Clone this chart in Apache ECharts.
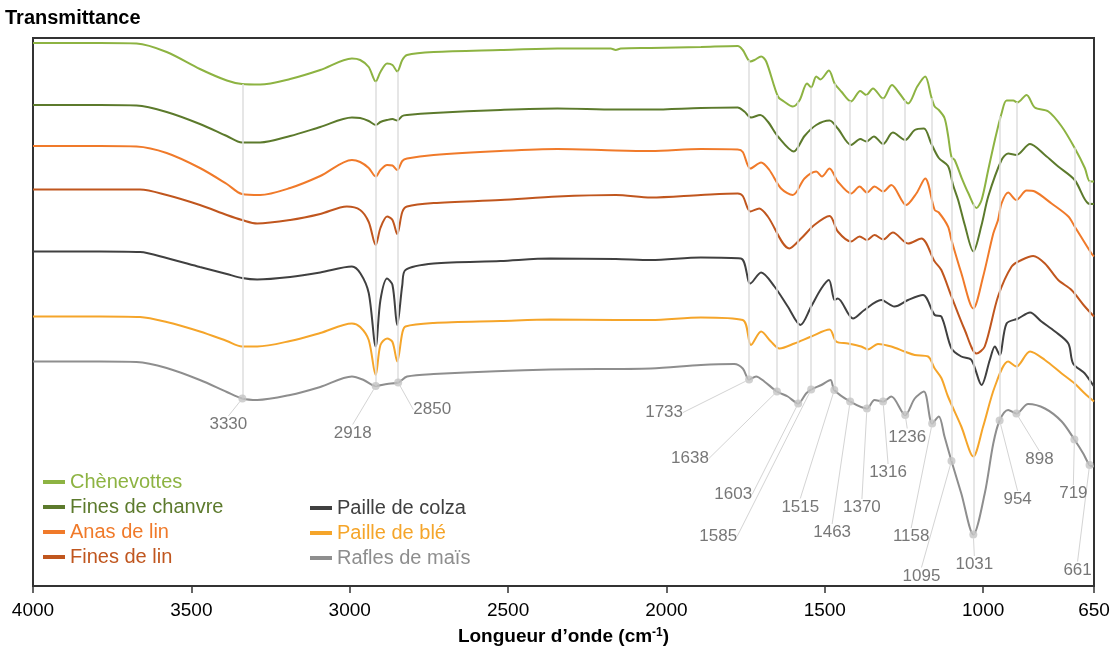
<!DOCTYPE html>
<html>
<head>
<meta charset="utf-8">
<title>Transmittance</title>
<script src="https://cdn.jsdelivr.net/npm/echarts@6/dist/echarts.min.js"></script>
<style>
    html, body { margin: 0; padding: 0; background: #fff; }
    #chart { width: 1116px; height: 657px; }
</style>
</head>
<body>
<div id="chart"></div>
<script>

    // spectra: [wavenumber cm-1, transmittance (offset, a.u.)]
    var chenevottes = [
        [4000, 108.6], [3789, 108.6], [3673, 108.5], [3578, 106.8], [3473, 103.4], [3388, 101.1], [3340, 100.4],
        [3283, 100.3], [3188, 101.4], [3093, 103.2], [2993, 105.5], [2967, 105.2], [2940, 103.8], [2918, 100.9],
        [2903, 102.8], [2882, 104.5], [2865, 104.2], [2850, 102.9], [2834, 105.2], [2819, 106.2], [2735, 106.8],
        [2524, 107.2], [2344, 107.5], [2176, 107.5], [2160, 107.2], [2144, 107.5], [2049, 107.6], [1891, 107.8],
        [1775, 108.0], [1759, 107.2], [1735, 104.9], [1722, 105.2], [1701, 105.9], [1685, 104.9], [1648, 97.9],
        [1629, 96.9], [1601, 95.9], [1580, 97.1], [1556, 100.5], [1543, 99.7], [1527, 101.9], [1514, 101.3],
        [1487, 103.1], [1469, 100.5], [1448, 98.9], [1417, 96.9], [1388, 99.0], [1369, 98.2], [1348, 99.5],
        [1316, 97.5], [1288, 100.2], [1264, 98.5], [1237, 96.5], [1208, 99.9], [1183, 101.9], [1164, 97.9],
        [1153, 95.9], [1140, 95.2], [1122, 93.6], [1111, 90.2], [1100, 85.8], [1090, 85.2], [1069, 81.8],
        [1047, 78.6], [1021, 75.6], [1005, 77.2], [984, 83.2], [963, 89.2], [942, 94.5], [926, 97.1], [905, 97.1],
        [892, 96.7], [863, 98.2], [837, 95.7], [794, 94.9], [752, 91.9], [711, 87.6], [679, 83.6], [663, 80.9],
        [650, 80.9]
    ];
    var finesChanvre = [
        [4000, 96.2], [3789, 96.2], [3673, 96.1], [3578, 94.8], [3473, 92.4], [3388, 90.0], [3340, 88.7],
        [3283, 88.7], [3188, 90.0], [3093, 91.8], [2993, 93.7], [2967, 93.6], [2940, 93.0], [2918, 92.2],
        [2903, 92.8], [2882, 93.2], [2865, 93.4], [2850, 93.1], [2834, 94.0], [2819, 94.2], [2735, 94.6],
        [2524, 95.2], [2344, 95.5], [2160, 95.3], [2049, 95.3], [1891, 95.6], [1775, 95.7], [1754, 94.9],
        [1733, 93.7], [1704, 94.2], [1680, 92.9], [1648, 89.9], [1598, 86.9], [1564, 90.0], [1527, 92.2],
        [1485, 93.1], [1459, 91.5], [1417, 88.2], [1388, 89.4], [1369, 88.9], [1345, 89.9], [1316, 88.4],
        [1285, 90.7], [1246, 89.2], [1216, 91.2], [1187, 91.5], [1164, 88.5], [1140, 85.6], [1111, 84.0],
        [1095, 80.2], [1079, 77.2], [1058, 72.2], [1031, 66.9], [1005, 72.2], [984, 77.9], [942, 85.2],
        [921, 86.5], [895, 86.2], [852, 88.4], [805, 86.2], [763, 83.9], [711, 81.2], [668, 76.5], [650, 76.4]
    ];
    var anasLin = [
        [4000, 88.0], [3789, 88.0], [3673, 87.9], [3578, 86.6], [3473, 83.6], [3388, 80.4], [3340, 78.4],
        [3283, 78.2], [3188, 79.6], [3093, 82.0], [2993, 85.2], [2967, 84.8], [2940, 83.6], [2918, 81.9],
        [2903, 83.2], [2882, 84.2], [2865, 84.1], [2850, 83.2], [2834, 85.0], [2819, 85.5], [2735, 86.2],
        [2524, 87.0], [2344, 87.4], [2160, 87.1], [2049, 87.0], [1891, 87.4], [1775, 87.3], [1759, 86.8],
        [1735, 83.5], [1701, 84.7], [1675, 83.2], [1638, 79.5], [1601, 78.2], [1564, 81.5], [1527, 82.9],
        [1509, 81.9], [1485, 83.5], [1459, 80.9], [1417, 78.5], [1390, 79.9], [1367, 78.7], [1343, 79.9],
        [1316, 78.9], [1290, 80.2], [1243, 76.2], [1211, 78.5], [1183, 81.5], [1153, 75.2], [1140, 74.7],
        [1111, 71.9], [1100, 69.2], [1069, 62.6], [1031, 55.5], [1000, 61.9], [968, 70.5], [953, 73.2],
        [942, 76.5], [921, 78.7], [895, 77.2], [863, 79.1], [837, 78.9], [784, 76.5], [731, 73.9], [711, 71.9],
        [658, 66.5], [650, 65.9]
    ];
    var finesLin = [
        [4000, 79.3], [3789, 79.3], [3662, 79.3], [3578, 78.2], [3473, 76.2], [3388, 74.2], [3340, 73.2],
        [3292, 72.5], [3188, 73.2], [3093, 74.4], [3009, 75.9], [2967, 75.2], [2940, 72.8], [2918, 68.2],
        [2903, 71.6], [2882, 73.9], [2865, 73.2], [2850, 70.4], [2834, 74.8], [2819, 75.9], [2735, 76.6],
        [2524, 77.2], [2344, 77.9], [2160, 78.2], [2049, 77.7], [1891, 78.2], [1775, 78.5], [1759, 78.0],
        [1735, 74.9], [1707, 75.5], [1680, 73.9], [1612, 67.5], [1575, 69.5], [1533, 72.2], [1485, 74.0],
        [1459, 70.9], [1417, 68.9], [1390, 69.9], [1367, 69.2], [1343, 70.2], [1316, 69.3], [1285, 70.7],
        [1237, 68.5], [1195, 69.5], [1153, 64.9], [1132, 63.2], [1100, 57.9], [1058, 51.2], [1021, 46.5],
        [995, 47.9], [953, 57.9], [910, 63.9], [879, 65.2], [842, 66.0], [805, 64.5], [763, 61.2], [721, 59.2],
        [679, 55.9], [650, 53.9]
    ];
    var pailleColza = [
        [4000, 66.9], [3789, 66.9], [3662, 66.8], [3578, 65.6], [3473, 63.8], [3388, 62.4], [3340, 61.6],
        [3292, 61.3], [3188, 61.8], [3093, 62.7], [2993, 63.9], [2966, 62.5], [2940, 58.6], [2918, 47.9],
        [2903, 57.2], [2882, 61.5], [2865, 60.2], [2850, 52.2], [2834, 60.2], [2824, 63.2], [2735, 64.5],
        [2524, 65.0], [2366, 65.5], [2160, 65.4], [2049, 65.2], [1891, 65.7], [1765, 65.5], [1735, 60.5],
        [1701, 62.7], [1659, 59.9], [1617, 55.9], [1577, 52.2], [1543, 55.9], [1511, 59.5], [1487, 61.2],
        [1469, 57.2], [1459, 57.5], [1411, 53.5], [1375, 55.2], [1322, 57.2], [1280, 55.9], [1237, 57.2],
        [1190, 58.2], [1153, 54.2], [1132, 53.9], [1100, 47.5], [1069, 45.9], [1037, 45.2], [1005, 40.2],
        [979, 45.2], [963, 47.9], [948, 46.2], [926, 52.5], [889, 53.5], [852, 54.7], [816, 52.9], [773, 50.9],
        [731, 48.5], [716, 44.5], [679, 42.5], [650, 39.9]
    ];
    var pailleBle = [
        [4000, 53.9], [3789, 53.9], [3662, 53.8], [3578, 52.8], [3473, 50.9], [3388, 49.0], [3340, 47.9],
        [3292, 47.9], [3188, 49.0], [3093, 50.6], [2993, 52.5], [2967, 51.8], [2940, 49.2], [2918, 42.2],
        [2903, 48.2], [2882, 49.5], [2865, 48.8], [2850, 44.9], [2834, 50.6], [2824, 51.9], [2735, 52.6],
        [2524, 53.0], [2366, 53.3], [2160, 53.2], [2049, 53.2], [1891, 53.7], [1759, 53.2], [1733, 48.2],
        [1701, 50.9], [1670, 48.9], [1643, 47.5], [1596, 48.5], [1543, 49.9], [1485, 51.3], [1464, 48.9],
        [1427, 48.5], [1385, 47.9], [1364, 47.3], [1332, 48.4], [1290, 47.9], [1248, 46.9], [1216, 46.2],
        [1174, 45.9], [1153, 43.5], [1132, 41.6], [1111, 37.9], [1069, 31.9], [1031, 25.9], [1000, 31.9],
        [963, 39.9], [921, 44.9], [895, 43.9], [852, 46.9], [805, 45.2], [752, 42.5], [711, 40.5], [679, 38.5],
        [650, 36.9]
    ];
    var raflesMais = [
        [4000, 44.9], [3789, 44.9], [3673, 44.8], [3578, 43.6], [3473, 41.2], [3388, 38.8], [3339, 37.5],
        [3292, 37.2], [3188, 38.2], [3093, 39.8], [2993, 41.9], [2956, 41.2], [2918, 40.0], [2882, 40.4],
        [2847, 40.7], [2819, 41.9], [2735, 42.4], [2366, 43.3], [2049, 43.5], [1891, 44.2], [1786, 44.4],
        [1759, 43.5], [1739, 41.3], [1717, 41.9], [1691, 40.9], [1651, 38.9], [1617, 37.9], [1584, 36.5],
        [1559, 38.5], [1543, 39.3], [1511, 40.2], [1482, 41.2], [1470, 39.2], [1420, 36.9], [1367, 35.5],
        [1343, 37.2], [1316, 36.9], [1290, 37.9], [1246, 34.2], [1216, 37.5], [1187, 38.9], [1161, 32.5],
        [1140, 33.9], [1122, 29.9], [1100, 25.0], [1069, 18.5], [1031, 10.3], [995, 18.5], [968, 28.5],
        [948, 33.1], [921, 35.2], [895, 34.5], [858, 36.4], [805, 35.5], [752, 32.9], [712, 29.3], [684, 26.5],
        [664, 24.2], [650, 23.9]
    ];

    var names = ['Chènevottes', 'Fines de chanvre', 'Anas de lin', 'Fines de lin',
        'Paille de colza', 'Paille de blé', 'Rafles de maïs'];
    var traces = [chenevottes, finesChanvre, anasLin, finesLin, pailleColza, pailleBle, raflesMais];

    // band labels and where their guide lines sit (top on Chènevottes, marker on Rafles de maïs)
    var bandLabel = ['3330', '2918', '2850', '1733', '1638', '1603', '1585', '1515', '1463', '1370',
        '1316', '1236', '1158', '1095', '1031', '954', '898', '719', '661'];
    var bandPos = [3339, 2918, 2847, 1739, 1651, 1584, 1543, 1470, 1420, 1367,
        1316, 1246, 1161, 1100, 1031, 948, 895, 712, 664];
    var bandLow = [37.5, 40.0, 40.7, 41.3, 38.9, 36.5, 39.3, 39.2, 36.9, 35.5,
        36.9, 34.2, 32.5, 25.0, 10.3, 33.1, 34.5, 29.3, 24.2];
    var bandTop = [100.4, 100.9, 102.9, 105.2, 98.2, 96.9, 99.7, 100.5, 97.0, 98.2,
        97.5, 97.2, 97.6, 85.8, 76.5, 94.0, 96.8, 87.7, 81.0];

    var xTicks = [4000, 3500, 3000, 2500, 2000, 1500, 1000, 650];

    var colors = ['#8db342', '#5c7a2c', '#f07a2a', '#c0561e', '#404040', '#f5a52a', '#8e8e8e'];
    var font = '"Liberation Sans", Arial, Helvetica, sans-serif';

    // label offsets from their marker, px
    var labelShift = [[-14, 26], [-23, 47], [34, 27], [-85, 33], [-87, 67], [-65, 91], [-93, 147], [-34, 117],
        [-18, 131], [-5, 99], [5, 71], [2, 22], [-21, 113], [-30, 115], [1, 30], [18, 79], [23, 46], [-1, 54],
        [-12, 105]];

    function legendItems(from, to) {
        var out = [];
        for (var i = from; i < to; i++) {
            out.push({ name: names[i], textStyle: { color: colors[i] } });
        }
        return out;
    }

    function getOption() {
        var series = [];

        // light grey guide lines behind the spectra
        series.push({
            type: 'line',
            name: 'guides',
            data: [],
            z: 1,
            silent: true,
            markLine: {
                silent: true,
                symbol: 'none',
                label: { show: false },
                lineStyle: { color: '#dedede', width: 1.5, type: 'solid' },
                emphasis: { disabled: true },
                data: bandPos.map(function (x, i) {
                    return [{ coord: [x, bandTop[i]] }, { coord: [x, bandLow[i]] }];
                })
            }
        });

        for (var i = 0; i < traces.length; i++) {
            series.push({
                type: 'line',
                name: names[i],
                data: traces[i],
                showSymbol: false,
                symbol: 'none',
                smooth: 0.3,
                z: 2,
                color: colors[i],
                lineStyle: { color: colors[i], width: 2 },
                emphasis: { disabled: true }
            });
        }

        series.push({
            type: 'scatter',
            name: 'bands',
            z: 5,
            symbolSize: 8,
            itemStyle: { color: '#c4c4c4' },
            data: bandPos.map(function (x, i) { return [x, bandLow[i], bandLabel[i]]; }),
            label: {
                show: true,
                position: 'inside',
                formatter: function (p) { return p.value[2]; },
                color: '#555',
                fontSize: 17,
                fontFamily: font
            },
            labelLine: { show: true, lineStyle: { color: '#d4d4d4', width: 1 } },
            labelLayout: function (p) {
                var s = labelShift[p.dataIndex];
                return { dx: s[0], dy: s[1] };
            },
            emphasis: { disabled: true }
        });

        return {
            animation: false,
            backgroundColor: '#fff',
            textStyle: { fontFamily: font },
            title: {
                text: 'Transmittance',
                left: 5,
                top: 8,
                padding: 0,
                textStyle: { fontSize: 20, fontWeight: 'bold', color: '#000', fontFamily: font }
            },
            legend: [{
                orient: 'vertical',
                left: 43,
                top: 472,
                padding: 0,
                itemGap: 5,
                itemWidth: 22,
                itemHeight: 4,
                icon: 'rect',
                selectedMode: false,
                textStyle: { fontSize: 20, fontFamily: font },
                data: legendItems(0, 4)
            }, {
                orient: 'vertical',
                left: 310,
                top: 498,
                padding: 0,
                itemGap: 5,
                itemWidth: 22,
                itemHeight: 4,
                icon: 'rect',
                selectedMode: false,
                textStyle: { fontSize: 20, fontFamily: font },
                data: legendItems(4, 7)
            }],
            grid: {
                left: 33,
                right: 22,
                top: 38,
                bottom: 71,
                show: true,
                borderColor: '#333',
                borderWidth: 2
            },
            xAxis: {
                type: 'value',
                inverse: true,
                min: 650,
                max: 4000,
                name: 'Longueur d’onde (cm{sup|-1})',
                nameLocation: 'middle',
                nameGap: 41,
                nameTextStyle: {
                    fontSize: 19,
                    fontWeight: 'bold',
                    color: '#000',
                    fontFamily: font,
                    rich: { sup: { fontSize: 12, fontWeight: 'bold', color: '#000', verticalAlign: 'top', fontFamily: font } }
                },
                axisLine: { lineStyle: { color: '#333', width: 2 } },
                axisTick: { show: true, inside: false, length: 7, customValues: xTicks, lineStyle: { color: '#333', width: 1.5 } },
                axisLabel: {
                    customValues: xTicks,
                    fontSize: 19,
                    color: '#000',
                    margin: 15,
                    fontFamily: font,
                    formatter: function (v) { return String(v); }
                },
                splitLine: { show: false }
            },
            yAxis: {
                type: 'value',
                min: 0,
                max: 109.6,
                axisLine: { show: true, lineStyle: { color: '#333', width: 2 } },
                axisTick: { show: false },
                axisLabel: { show: false },
                splitLine: { show: false }
            },
            series: series
        };
    }

    var chart = echarts.init(document.getElementById('chart'));
    chart.setOption(getOption(), true);

</script>
</body>
</html>
